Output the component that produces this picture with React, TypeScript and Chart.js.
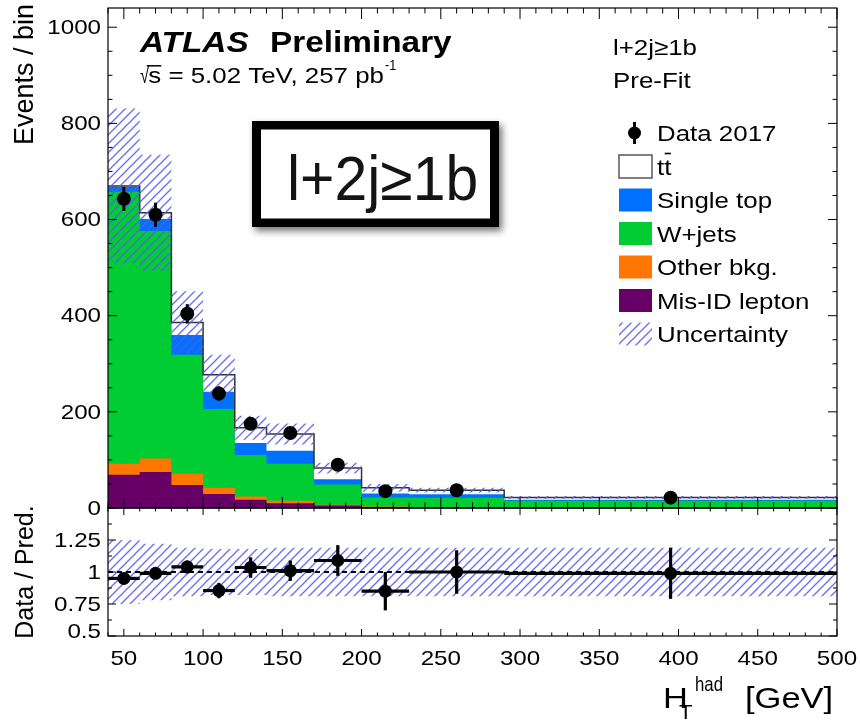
import React, { useEffect, useRef } from 'react';
import { Chart, registerables } from 'chart.js';
Chart.register(...registerables);

// ---------- data ----------
const binEdges = [40, 60, 80, 100, 120, 140, 170, 200, 230, 290, 500];
const misIdLepton = [69, 75, 48, 29, 17, 10, 5, 1, 0.5, 0.5];
const otherBkg = [23, 28, 23, 13, 7, 5, 2, 2, 1, 1];
const wJets = [566, 473, 248, 164, 86, 77, 42, 19, 20, 13.5];
const singleTop = [10, 25, 41, 36, 25, 27, 11, 8, 7, 2];
const ttbar = [2, 13, 26, 35, 32, 35, 23, 12, 8.5, 5];
const predUnc = [161, 121, 65, 42, 25, 22, 11, 8, 5, 3];
const data2017 = [643, 610, 404, 238, 175, 156, 90, 35, 37, 21.5];
const data2017Err = [25, 25, 20, 15, 13, 12.5, 9.5, 6, 6, 4.6];
const ratioValues = [0.95, 0.99, 1.04, 0.855, 1.035, 1.01, 1.09, 0.85, 1.0, 0.99];
const ratioErr = [0.04, 0.04, 0.05, 0.06, 0.08, 0.08, 0.12, 0.15, 0.17, 0.2];
const ratioBandUp = [1.25, 1.22, 1.19, 1.18, 1.18, 1.19, 1.19, 1.19, 1.19, 1.19];
const ratioBandDown = [0.75, 0.78, 0.81, 0.82, 0.82, 0.81, 0.81, 0.81, 0.81, 0.81];
const xTickLabels = [50, 100, 150, 200, 250, 300, 350, 400, 450, 500];
const yTickLabelsMain = [0, 200, 400, 600, 800, 1000];
const yTickLabelsRatio = [0.5, 0.75, 1, 1.25];
const legendLabels = ['Data 2017', 'tt', 'Single top', 'W+jets', 'Other bkg.', 'Mis-ID lepton', 'Uncertainty'];

// ---------- styles ----------
const COLORS = {
  misId: '#660066',
  other: '#ff7700',
  wjets: '#00cc33',
  single: '#0070ff',
  ttbar: '#ffffff',
};
const FONT = '"Liberation Sans", Arial, Helvetica, sans-serif';
const SX = 1.15;

const centers = binEdges.slice(0, -1).map((e, i) => (e + binEdges[i + 1]) / 2);
const cumulate = (...arrs: number[][]) => arrs[0].map((_, i) => arrs.reduce((s, a) => s + a[i], 0));
const stepPoints = (vals: number[]) => {
  const pts: { x: number; y: number }[] = [];
  vals.forEach((v, i) => {
    pts.push({ x: binEdges[i], y: v });
    pts.push({ x: binEdges[i + 1], y: v });
  });
  return pts;
};

function makeHatch(ctx: CanvasRenderingContext2D) {
  const c = document.createElement('canvas');
  const s = 9;
  c.width = s;
  c.height = s;
  const g = c.getContext('2d')!;
  g.strokeStyle = 'rgba(90,90,240,0.9)';
  g.lineWidth = 1.3;
  g.beginPath();
  g.moveTo(-1, s + 1);
  g.lineTo(s + 1, -1);
  g.moveTo(-2, 2);
  g.lineTo(2, -2);
  g.moveTo(s - 2, s + 2);
  g.lineTo(s + 2, s - 2);
  g.stroke();
  return ctx.createPattern(c, 'repeat')!;
}

function drawText(ctx: CanvasRenderingContext2D, s: string, x: number, y: number, size: number, o: any = {}) {
  const sx = o.sx ?? SX;
  ctx.save();
  ctx.translate(x, y);
  if (o.rotate) ctx.rotate(o.rotate);
  ctx.scale(sx, 1);
  ctx.font = `${o.italic ? 'italic ' : ''}${o.bold ? 'bold ' : ''}${size}px ${FONT}`;
  ctx.textAlign = o.align ?? 'left';
  ctx.textBaseline = o.baseline ?? 'alphabetic';
  ctx.fillStyle = o.color ?? '#000';
  ctx.fillText(s, 0, 0);
  const m = ctx.measureText(s);
  ctx.restore();
  return { w: m.width * sx, asc: m.actualBoundingBoxAscent };
}

function line(ctx: CanvasRenderingContext2D, x1: number, y1: number, x2: number, y2: number) {
  ctx.beginPath();
  ctx.moveTo(x1, y1);
  ctx.lineTo(x2, y2);
  ctx.stroke();
}

function drawFrameTicks(chart: any, t: any) {
  const { ctx, chartArea: a } = chart;
  const x = chart.scales.x;
  const y = chart.scales.y;
  ctx.save();
  ctx.strokeStyle = '#000';
  ctx.lineWidth = 1.2;
  ctx.strokeRect(a.left, a.top, a.right - a.left, a.bottom - a.top);
  ctx.lineWidth = 1;
  for (let v = 40; v <= 500; v += 10) {
    const px = x.getPixelForValue(v);
    const len = v % 50 === 0 ? t.xMajor : t.xMinor;
    line(ctx, px, a.bottom, px, a.bottom - len);
    line(ctx, px, a.top, px, a.top + len);
  }
  for (let i = 0; i <= t.yCount; i++) {
    const v = t.yStart + i * t.yStep;
    if (v > y.max) break;
    const py = y.getPixelForValue(v);
    const len = i % t.yMajorEvery === 0 ? t.yMajor : t.yMinor;
    line(ctx, a.left, py, a.left + len, py);
    line(ctx, a.right, py, a.right - len, py);
  }
  ctx.restore();
}

const mainDecor = {
  id: 'mainDecor',
  afterDatasetsDraw(chart: any) {
    const { ctx } = chart;
    const x = chart.scales.x;
    const y = chart.scales.y;
    ctx.save();
    ctx.strokeStyle = '#000';
    ctx.lineWidth = 3;
    data2017.forEach((v, i) => {
      const cx = x.getPixelForValue(centers[i]);
      line(ctx, cx, y.getPixelForValue(v - data2017Err[i]), cx, y.getPixelForValue(v + data2017Err[i]));
    });
    ctx.restore();
  },
  afterDraw(chart: any) {
    const { ctx } = chart;
    const y = chart.scales.y;
    drawFrameTicks(chart, { xMajor: 11, xMinor: 5.5, yStart: 0, yStep: 50, yCount: 20, yMajorEvery: 4, yMajor: 9, yMinor: 4.5 });
    ctx.save();
    // y tick labels
    yTickLabelsMain.forEach((v) => {
      drawText(ctx, String(v), 101, y.getPixelForValue(v) + 1, 21, { align: 'right', baseline: 'middle' });
    });
    // y title
    drawText(ctx, 'Events / bin', 33, 4, 27, { rotate: -Math.PI / 2, sx: 1, align: 'right' });
    // ATLAS label
    drawText(ctx, 'ATLAS', 140, 52, 29, { bold: true, italic: true });
    drawText(ctx, 'Preliminary', 270, 52, 29, { bold: true });
    // sqrt(s) line
    let cx = 140;
    const by = 83;
    const r = drawText(ctx, '\u221A', cx, by, 22.5, { sx: 0.75 });
    cx += r.w - 1;
    const sW = drawText(ctx, 's', cx, by, 22.5);
    ctx.strokeStyle = '#000';
    ctx.lineWidth = 1.5;
    line(ctx, cx - 1.5, by - r.asc + 0.8, cx + sW.w, by - r.asc + 0.8);
    cx += sW.w;
    const rest = drawText(ctx, ' = 5.02 TeV, 257 pb', cx, by, 22.5);
    cx += rest.w;
    drawText(ctx, '-1', cx + 1, by - 13, 14, { sx: 0.9 });
    // region labels
    drawText(ctx, 'l+2j\u22651b', 613, 55, 22.5);
    drawText(ctx, 'Pre-Fit', 613, 88, 22.5);
    // boxed label
    ctx.save();
    ctx.shadowColor = 'rgba(0,0,0,0.55)';
    ctx.shadowBlur = 7;
    ctx.shadowOffsetX = 3;
    ctx.shadowOffsetY = 4;
    ctx.fillStyle = '#000';
    ctx.fillRect(252, 121, 247, 106);
    ctx.restore();
    ctx.fillStyle = '#fff';
    ctx.fillRect(261, 129.5, 229, 89);
    drawText(ctx, 'l+2j\u22651b', 287, 199.5, 63, { sx: 0.935, color: '#141414' });
    // legend
    const lx = 619;
    const bw = 33;
    const bh = 23;
    const tx = 657;
    const fills = [null, COLORS.ttbar, COLORS.single, COLORS.wjets, COLORS.other, COLORS.misId, 'hatch'];
    legendLabels.forEach((lab, i) => {
      const cy = 133 + 33.5 * i;
      if (i === 0) {
        ctx.fillStyle = '#000';
        ctx.beginPath();
        ctx.arc(lx + bw / 2 - 1, cy, 6.5, 0, Math.PI * 2);
        ctx.fill();
        ctx.strokeStyle = '#000';
        ctx.lineWidth = 3;
        line(ctx, lx + bw / 2 - 1, cy - 11, lx + bw / 2 - 1, cy + 11);
      } else if (fills[i] === 'hatch') {
        ctx.fillStyle = (chart as any).$hatch;
        ctx.fillRect(lx, cy - bh / 2, bw, bh);
      } else {
        ctx.fillStyle = fills[i] as string;
        ctx.fillRect(lx, cy - bh / 2, bw, bh);
        if (i === 1) {
          ctx.strokeStyle = '#555';
          ctx.lineWidth = 1.5;
          ctx.strokeRect(lx, cy - bh / 2, bw, bh);
        }
      }
      const res = drawText(ctx, lab, tx, cy + 8, 22.5);
      if (i === 1) {
        const tw = res.w / 2;
        ctx.strokeStyle = '#000';
        ctx.lineWidth = 1.6;
        line(ctx, tx + tw + 0.5, cy - 13, tx + 2 * tw - 0.5, cy - 13);
      }
    });
    ctx.restore();
  },
};

const ratioDecor = {
  id: 'ratioDecor',
  afterDatasetsDraw(chart: any) {
    const { ctx } = chart;
    const x = chart.scales.x;
    const y = chart.scales.y;
    ctx.save();
    ctx.strokeStyle = '#000';
    ctx.lineWidth = 3.2;
    ratioValues.forEach((v, i) => {
      const cx = x.getPixelForValue(centers[i]);
      const py = y.getPixelForValue(v);
      line(ctx, x.getPixelForValue(binEdges[i]), py, x.getPixelForValue(binEdges[i + 1]), py);
      line(ctx, cx, y.getPixelForValue(v - ratioErr[i]), cx, y.getPixelForValue(v + ratioErr[i]));
    });
    ctx.restore();
  },
  afterDraw(chart: any) {
    const { ctx, chartArea: a } = chart;
    const x = chart.scales.x;
    const y = chart.scales.y;
    drawFrameTicks(chart, { xMajor: 7, xMinor: 3.5, yStart: 0.5, yStep: 0.125, yCount: 8, yMajorEvery: 2, yMajor: 8, yMinor: 4 });
    ctx.save();
    yTickLabelsRatio.forEach((v) => {
      const off = v === y.min ? -4 : 1;
      drawText(ctx, String(v), 101, y.getPixelForValue(v) + off, 21, { align: 'right', baseline: 'middle' });
    });
    xTickLabels.forEach((v) => {
      drawText(ctx, String(v), x.getPixelForValue(v), a.bottom + 29, 21, { align: 'center' });
    });
    drawText(ctx, 'Data / Pred.', 33, (a.top + a.bottom) / 2, 25, { rotate: -Math.PI / 2, sx: 1, align: 'center' });
    // x title
    drawText(ctx, 'H', 663, 208, 30);
    drawText(ctx, 'T', 679, 219, 21, { sx: 1.05 });
    drawText(ctx, 'had', 695, 190.5, 21, { sx: 0.8 });
    drawText(ctx, '[GeV]', 745, 208, 30);
    ctx.restore();
  },
};

export default function App() {
  const mainRef = useRef<HTMLCanvasElement>(null);
  const ratioRef = useRef<HTMLCanvasElement>(null);

  useEffect(() => {
    const mc = mainRef.current!;
    const rc = ratioRef.current!;
    const hatchMain = makeHatch(mc.getContext('2d')!);
    const hatchRatio = makeHatch(rc.getContext('2d')!);

    const c1 = misIdLepton;
    const c2 = cumulate(misIdLepton, otherBkg);
    const c3 = cumulate(misIdLepton, otherBkg, wJets);
    const c4 = cumulate(misIdLepton, otherBkg, wJets, singleTop);
    const total = cumulate(misIdLepton, otherBkg, wJets, singleTop, ttbar);
    const uncHi = total.map((v, i) => v + predUnc[i]);
    const uncLo = total.map((v, i) => Math.max(0, v - predUnc[i]));

    const fillSet = (vals: number[], color: string) => ({
      data: stepPoints(vals),
      backgroundColor: color,
      borderWidth: 0,
      pointRadius: 0,
      fill: 'origin',
    });

    const baseOpts = (ymin: number, ymax: number, pad: any) => ({
      animation: false,
      responsive: false,
      maintainAspectRatio: false,
      events: [],
      layout: { padding: pad },
      plugins: { legend: { display: false }, tooltip: { enabled: false }, title: { display: false } },
      scales: {
        x: { type: 'linear', min: 40, max: 500, display: false },
        y: { type: 'linear', min: ymin, max: ymax, display: false },
      },
      elements: { line: { tension: 0 } },
    });

    const main = new Chart(mc, {
      type: 'line',
      data: {
        datasets: [
          {
            data: data2017.map((v, i) => ({ x: centers[i], y: v })),
            showLine: false,
            pointRadius: 7,
            pointBorderWidth: 0,
            pointBackgroundColor: '#000',
          },
          { data: stepPoints(uncHi), borderWidth: 0, pointRadius: 0, fill: '+1', backgroundColor: hatchMain },
          { data: stepPoints(uncLo), borderWidth: 0, pointRadius: 0, fill: false },
          { data: stepPoints(total), borderColor: '#333', borderWidth: 1.5, pointRadius: 0, fill: false },
          fillSet(c1, COLORS.misId),
          fillSet(c2, COLORS.other),
          fillSet(c3, COLORS.wjets),
          fillSet(c4, COLORS.single),
          fillSet(total, COLORS.ttbar),
        ] as any,
      },
      options: baseOpts(0, 1040, { left: 108, right: 23, top: 8, bottom: 22 }) as any,
      plugins: [mainDecor],
    });
    (main as any).$hatch = hatchMain;
    main.draw();

    const ratio = new Chart(rc, {
      type: 'line',
      data: {
        datasets: [
          {
            data: ratioValues.map((v, i) => ({ x: centers[i], y: v })),
            showLine: false,
            pointRadius: 6.5,
            pointBorderWidth: 0,
            pointBackgroundColor: '#000',
          },
          {
            data: [
              { x: binEdges[0], y: 1 },
              { x: binEdges[binEdges.length - 1], y: 1 },
            ],
            borderColor: '#000',
            borderWidth: 2,
            borderDash: [5, 4],
            pointRadius: 0,
            fill: false,
          },
          { data: stepPoints(ratioBandUp), borderWidth: 0, pointRadius: 0, fill: '+1', backgroundColor: hatchRatio },
          { data: stepPoints(ratioBandDown), borderWidth: 0, pointRadius: 0, fill: false },
        ] as any,
      },
      options: baseOpts(0.5, 1.5, { left: 108, right: 23, top: 8, bottom: 85 }) as any,
      plugins: [ratioDecor],
    });

    return () => {
      main.destroy();
      ratio.destroy();
    };
  }, []);

  return (
    <div style={{ position: 'absolute', left: 0, top: 0, width: 860, height: 721, background: '#fff', overflow: 'hidden' }}>
      <canvas ref={mainRef} width={860} height={530} style={{ position: 'absolute', left: 0, top: 0, width: 860, height: 530 }} />
      <canvas ref={ratioRef} width={860} height={221} style={{ position: 'absolute', left: 0, top: 500, width: 860, height: 221 }} />
    </div>
  );
}
